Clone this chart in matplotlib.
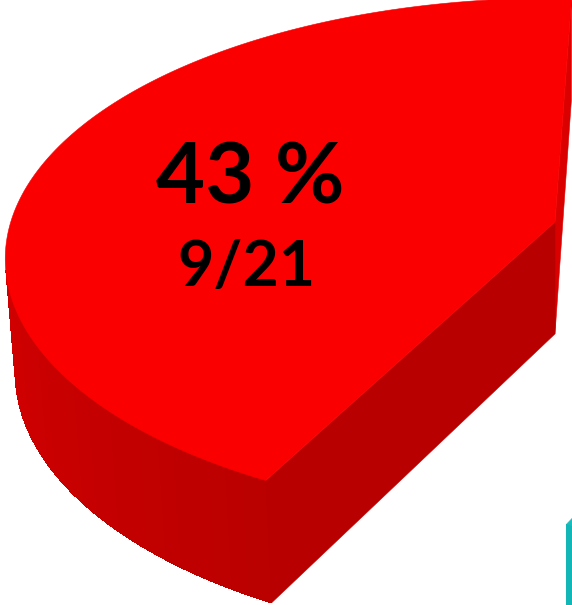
import numpy as np
import matplotlib.pyplot as plt
from matplotlib.colors import to_rgb

# data: 9 of 21 answers fall in the highlighted slice
names = ["Oui", "Non"]
counts = [9, 12]
total = sum(counts)

# styles per slice
top_colors = ["#fb0000", "#1abdbd"]
side_light = ["#d70000", "#12b6b6"]
side_dark = ["#b90000", "#12b6b6"]
cut_colors = [("#da0000", "#b80000"), ("#0fa3a3", "#0fa3a3")]

# view of the 3d pie (radius = 1)
W, H = 572, 605
start_angle = 88.0
elev = np.radians(28.0)
dist = 6.26
focal = 3407.0
thick = 0.237
explode = 0.25
origin = (555.0, 222.0)


def project(pts, target):
    x = pts[:, 0] - target[0]
    y = pts[:, 1] - target[1]
    z = pts[:, 2]
    depth = dist + y * np.cos(elev) - z * np.sin(elev)
    px = origin[0] + focal * x / depth
    py = origin[1] - focal * (y * np.sin(elev) + z * np.cos(elev)) / depth
    return np.column_stack([px, py])


def area(poly):
    x, y = poly[:, 0], poly[:, 1]
    return 0.5 * np.sum(x * np.roll(y, -1) - np.roll(x, -1) * y)


def mix(c1, c2, t):
    return tuple((1 - t) * np.array(to_rgb(c1)) + t * np.array(to_rgb(c2)))


fracs = np.array(counts) / total
edges = start_angle + 360 * np.concatenate([[0], np.cumsum(fracs)])
slices = []
for i in range(len(counts)):
    mid = np.radians((edges[i] + edges[i + 1]) / 2)
    off = explode * np.array([np.cos(mid), np.sin(mid)])
    slices.append((edges[i], edges[i + 1], off))

# camera is aimed at the highlighted slice
target = slices[0][2]

fig = plt.figure(figsize=(W / 100, H / 100), dpi=100)
ax = fig.add_axes([0, 0, 1, 1])
ax.set_xlim(0, W)
ax.set_ylim(H, 0)
ax.axis("off")

order = sorted(range(len(slices)), key=lambda i: -(slices[i][2][1] - target[1]))
for i in order:
    t0, t1, (cx, cy) = slices[i]
    th = np.radians(np.linspace(t0, t1, 240))
    rim = np.column_stack([cx + np.cos(th), cy + np.sin(th)])
    top2 = project(np.column_stack([rim, np.zeros(len(th))]), target)
    bot2 = project(np.column_stack([rim, np.full(len(th), -thick)]), target)
    c_top = project(np.array([[cx, cy, 0.0]]), target)[0]
    c_bot = project(np.array([[cx, cy, -thick]]), target)[0]

    # outer wall: smooth outline first, then shaded strips on top
    quads = []
    for k in range(len(th) - 1):
        quad = np.array([top2[k], top2[k + 1], bot2[k + 1], bot2[k]])
        if area(quad) > 0:
            quads.append((k, quad))
    if quads:
        k0, k1 = quads[0][0], quads[-1][0] + 1
        wall = np.vstack([top2[k0:k1 + 1], bot2[k0:k1 + 1][::-1]])
        mid_col = mix(side_light[i], side_dark[i], 0.5)
        ax.fill(wall[:, 0], wall[:, 1], color=mid_col, lw=0)
        for k, quad in quads:
            deg = np.degrees(th[k]) % 360
            t = np.clip((deg - 180) / 65, 0, 1)
            col = mix(side_light[i], side_dark[i], t)
            ax.fill(quad[:, 0], quad[:, 1], color=col, lw=0, antialiased=False)

    # cut faces
    face_s = np.array([c_top, top2[0], bot2[0], c_bot])
    face_e = np.array([c_top, c_bot, bot2[-1], top2[-1]])
    for face, col in ((face_s, cut_colors[i][0]), (face_e, cut_colors[i][1])):
        if area(face) > 0:
            ax.fill(face[:, 0], face[:, 1], color=col, ec=col, lw=0.4)

    # top
    top_face = np.vstack([c_top, top2])
    ax.fill(top_face[:, 0], top_face[:, 1], color=top_colors[i], ec=top_colors[i], lw=0.4)

# label of the highlighted slice
cx, cy = slices[0][2]
anchor = project(np.array([[cx - 0.56, cy, 0.0]]), target)[0]
ax.annotate(f"{round(100 * fracs[0])} %", xy=anchor, xytext=(0, 19),
            textcoords="offset pixels", ha="center", va="baseline",
            fontsize=61, fontweight="bold", family=["Lato", "DejaVu Sans"], color="black")
ax.annotate(f"{counts[0]}/{total}", xy=anchor, xytext=(-4, -64),
            textcoords="offset pixels", ha="center", va="baseline",
            fontsize=45, fontweight="bold", family=["Lato", "DejaVu Sans"], color="black")

fig.savefig("out.png", dpi=100)
